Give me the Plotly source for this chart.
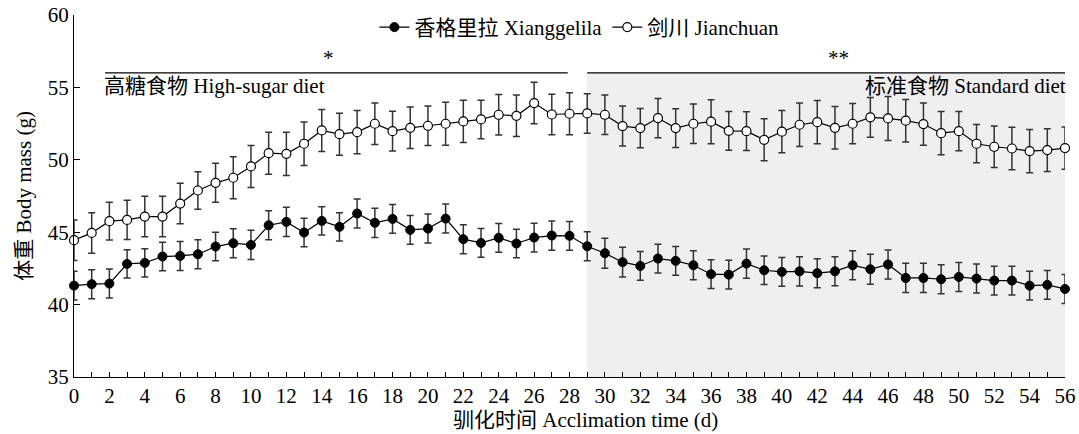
import plotly.graph_objects as go

days = list(range(0, 57))

xiang_mean = [41.31, 41.41, 41.45, 42.81, 42.88, 43.32, 43.36, 43.48, 44.01, 44.24,
              44.12, 45.48, 45.71, 44.98, 45.78, 45.37, 46.29, 45.65, 45.92, 45.16,
              45.25, 45.94, 44.52, 44.26, 44.61, 44.22, 44.63, 44.77, 44.75, 44.03,
              43.55, 42.93, 42.67, 43.18, 43.02, 42.72, 42.10, 42.07, 42.83, 42.37,
              42.26, 42.30, 42.17, 42.30, 42.72, 42.44, 42.77, 41.84, 41.84, 41.75,
              41.91, 41.80, 41.66, 41.66, 41.31, 41.36, 41.08]
xiang_err = [1.0, 1.0, 1.0, 0.98, 0.98, 0.98, 1.0, 1.0, 0.98, 1.0,
             1.01, 1.0, 1.01, 0.98, 0.98, 0.98, 1.0, 1.01, 0.99, 1.0,
             1.0, 1.0, 1.0, 0.99, 0.99, 0.99, 0.99, 1.01, 0.99, 1.0,
             1.04, 1.03, 0.99, 0.99, 0.99, 1.0, 0.99, 0.99, 1.01, 0.99,
             1.0, 1.01, 1.0, 1.0, 1.0, 1.03, 1.0, 1.01, 1.01, 1.0,
             1.0, 1.0, 0.99, 0.99, 1.0, 0.99, 1.0]

jian_mean = [44.45, 44.95, 45.76, 45.85, 46.08, 46.08, 46.98, 47.88, 48.41, 48.76,
             49.54, 50.46, 50.41, 51.11, 52.03, 51.77, 51.91, 52.49, 51.98, 52.21,
             52.35, 52.49, 52.65, 52.79, 53.11, 53.04, 53.92, 53.13, 53.18, 53.20,
             53.11, 52.33, 52.19, 52.88, 52.19, 52.49, 52.63, 52.00, 51.98, 51.38,
             51.94, 52.42, 52.60, 52.21, 52.49, 52.93, 52.86, 52.70, 52.47, 51.84,
             51.98, 51.11, 50.90, 50.78, 50.60, 50.67, 50.81]
jian_err = [1.4, 1.4, 1.3, 1.35, 1.4, 1.4, 1.4, 1.3, 1.35, 1.45,
            1.45, 1.45, 1.5, 1.5, 1.45, 1.45, 1.5, 1.43, 1.38, 1.43,
            1.36, 1.49, 1.46, 1.33, 1.4, 1.43, 1.43, 1.4, 1.45, 1.36,
            1.36, 1.38, 1.35, 1.36, 1.34, 1.36, 1.52, 1.34, 1.34, 1.45,
            1.46, 1.5, 1.5, 1.47, 1.39, 1.38, 1.52, 1.47, 1.46, 1.49,
            1.36, 1.32, 1.44, 1.46, 1.49, 1.47, 1.46]

series_names = ["香格里拉 Xianggelila", "剑川 Jianchuan"]
phase_labels = ["高糖食物 High-sugar diet", "标准食物 Standard diet"]
phase_sig = ["*", "**"]
phase_start = [1.75, 29]
phase_end = [27.9, 56]
sig_x = [14.4, 43.2]
bar_level = 56
y_tick_vals = [35, 40, 45, 50, 55, 60]
x_title = "驯化时间 Acclimation time (d)"
y_title = "体重 Body mass (g)"

FONT = "'Liberation Serif', 'Times New Roman', 'Noto Sans CJK SC', serif"
ERRC = "#333333"

fig = go.Figure()

fig.add_trace(go.Scatter(
    x=days, y=xiang_mean, name=series_names[0], mode="lines+markers",
    line=dict(color="black", width=1.2),
    marker=dict(symbol="circle", size=9, color="black", line=dict(color="black", width=1)),
    error_y=dict(type="data", array=xiang_err, visible=True, color=ERRC, thickness=1.5, width=3.5),
    cliponaxis=False,
))
fig.add_trace(go.Scatter(
    x=days, y=jian_mean, name=series_names[1], mode="lines+markers",
    line=dict(color="black", width=1.2),
    marker=dict(symbol="circle", size=9, color="white", line=dict(color="black", width=1.2)),
    error_y=dict(type="data", array=jian_err, visible=True, color=ERRC, thickness=1.5, width=3.5),
    cliponaxis=False,
))

fig.add_shape(type="rect", xref="x", yref="y", x0=phase_start[1], x1=phase_end[1],
              y0=35, y1=bar_level, fillcolor="#efefef", line=dict(width=0), layer="below")
for i in range(2):
    fig.add_shape(type="line", xref="x", yref="y", x0=phase_start[i], x1=phase_end[i],
                  y0=bar_level, y1=bar_level, line=dict(color="black", width=1.2))
    fig.add_annotation(x=sig_x[i], y=bar_level, xref="x", yref="y", text=phase_sig[i],
                       showarrow=False, yanchor="bottom", yshift=1,
                       font=dict(family=FONT, size=21, color="black"))

fig.add_annotation(x=phase_start[0], y=bar_level, xref="x", yref="y", text=phase_labels[0],
                   showarrow=False, xanchor="left", yanchor="top", xshift=-3, yshift=1,
                   font=dict(family=FONT, size=21, color="black"))
fig.add_annotation(x=phase_end[1], y=bar_level, xref="x", yref="y", text=phase_labels[1],
                   showarrow=False, xanchor="right", yanchor="top", xshift=3, yshift=1,
                   font=dict(family=FONT, size=21, color="black"))

# x-axis title as annotation (slightly right of plot centre, as in the reference)
fig.add_annotation(x=0.516, y=0, xref="paper", yref="paper", text=x_title,
                   showarrow=False, xanchor="center", yanchor="middle", yshift=-43,
                   font=dict(family=FONT, size=21, color="black"))

fig.update_layout(
    width=1079, height=434,
    margin=dict(l=74, r=14, t=15, b=57, autoexpand=False),
    paper_bgcolor="white", plot_bgcolor="white",
    font=dict(family=FONT, size=21, color="black"),
    showlegend=True,
    legend=dict(orientation="h", x=0.51, xanchor="center", yref="container", y=0.984, yanchor="top",
                bgcolor="rgba(0,0,0,0)", font=dict(family=FONT, size=21),
                itemwidth=30, tracegroupgap=0),
    xaxis=dict(range=[0, 56], tickmode="array", tickvals=days,
               ticktext=[str(d) if d % 2 == 0 else "" for d in days],
               ticks="inside", ticklen=5, tickcolor="black", tickwidth=1,
               showline=True, linecolor="black", linewidth=1.2, mirror=False,
               showgrid=False, zeroline=False, automargin=False,
               tickfont=dict(family=FONT, size=21)),
    yaxis=dict(range=[35, 60], tickmode="array", tickvals=y_tick_vals,
               ticks="inside", ticklen=6, tickcolor="black", tickwidth=1,
               showline=True, linecolor="black", linewidth=1.2, mirror=False,
               showgrid=False, zeroline=False, automargin=False,
               tickfont=dict(family=FONT, size=21),
               title=dict(text=y_title, font=dict(family=FONT, size=21), standoff=10)),
)

fig.write_html("out.html")
